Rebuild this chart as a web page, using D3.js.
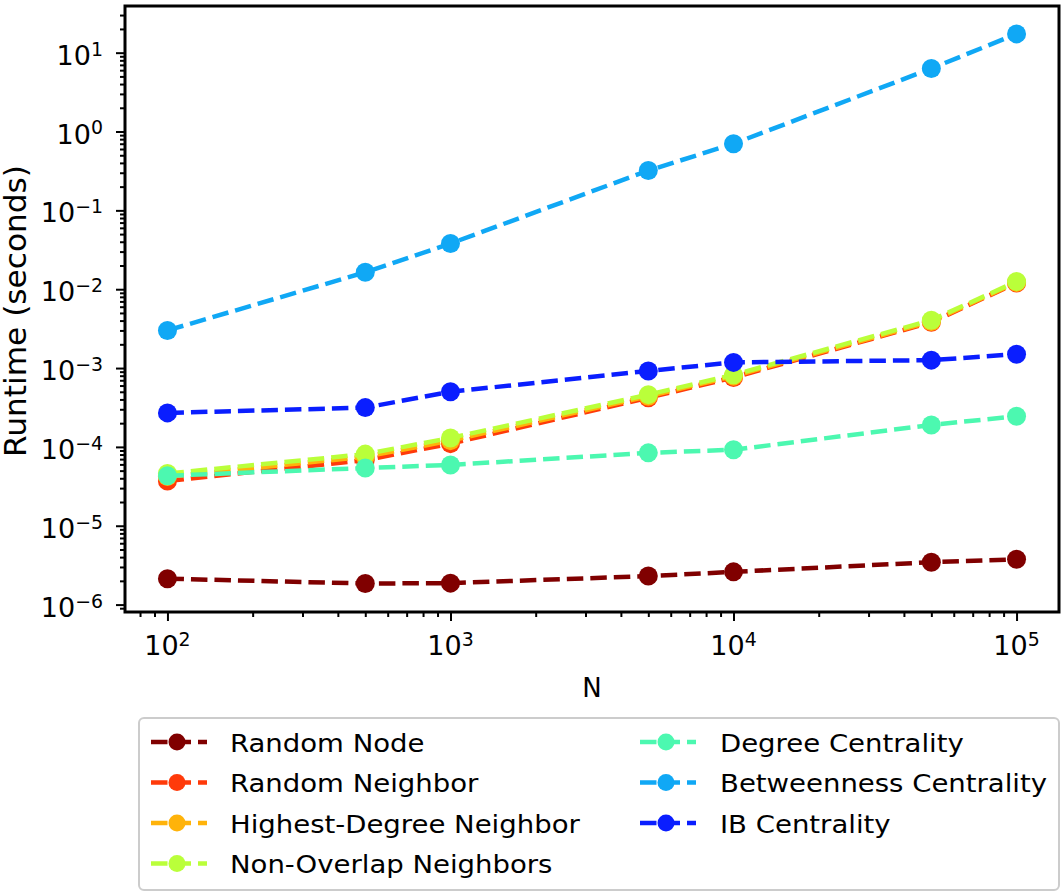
<!DOCTYPE html>
<html><head><meta charset="utf-8">
<script src="https://cdn.jsdelivr.net/npm/d3@7"></script>
<style>body{margin:0;background:#fff} text{font-family:"DejaVu Sans",sans-serif;fill:#000}</style>
</head><body><svg id="c" width="1064" height="892"></svg>
<script>
const Ns = [100, 500, 1000, 5000, 10000, 50000, 100000];
const seriesNames = ["Random Node","Random Neighbor","Highest-Degree Neighbor","Non-Overlap Neighbors","Degree Centrality","Betweenness Centrality","IB Centrality"];
const seriesColors = ["#800000","#ff3a0a","#ffb30a","#baff3a","#4cf8b0","#10a8f5","#0a1eff"];
const randomNode   = [2.13e-6, 1.85e-6, 1.87e-6, 2.3e-6, 2.6e-6, 3.45e-6, 3.75e-6];
const randomNeighbor = [3.7e-5, 6.8e-5, 1.1e-4, 4.2e-4, 7.6e-4, 3.8e-3, 1.2e-2];
const highestDegree  = [4.2e-5, 7.5e-5, 1.2e-4, 4.4e-4, 7.9e-4, 3.9e-3, 1.22e-2];
const nonOverlap     = [4.6e-5, 8.1e-5, 1.3e-4, 4.6e-4, 8.2e-4, 4.05e-3, 1.25e-2];
const degreeCentrality = [4.3e-5, 5.4e-5, 5.9e-5, 8.4e-5, 9.2e-5, 1.9e-4, 2.45e-4];
const betweenness    = [3.0e-3, 1.64e-2, 3.8e-2, 0.32, 0.70, 6.3, 17.3];
const ibCentrality   = [2.7e-4, 3.15e-4, 5.0e-4, 9.2e-4, 1.18e-3, 1.26e-3, 1.5e-3];
const xTickExps = [2, 3, 4, 5];
const yTickExps = [-6, -5, -4, -3, -2, -1, 0, 1];
const xLabel = "N", yLabel = "Runtime (seconds)";

const allSeries = [randomNode, randomNeighbor, highestDegree, nonOverlap, degreeCentrality, betweenness, ibCentrality];

const svg = d3.select("#c");
const L = 125, R = 1059, T = 6, B = 612;
const x = d3.scaleLog().domain([Math.pow(10,1.85), Math.pow(10,5.15)]).range([L, R]);
const y = d3.scaleLog().domain([Math.pow(10,-6.094), Math.pow(10,1.592)]).range([B, T]);

function sup(sel, e) {
  sel.text(null);
  sel.append("tspan").text("10");
  sel.append("tspan").attr("dy", "-0.48em").attr("font-size", "0.7em").text(String(e).replace("-", "\u2212"));
}

// minor ticks
const xMinor = [], yMinor = [];
for (let k = 1; k <= 5; k++) for (let m = 2; m <= 9; m++) { const v = m * Math.pow(10, k); if (v > x.domain()[0] && v < x.domain()[1]) xMinor.push(v); }
for (let k = -7; k <= 1; k++) for (let m = 2; m <= 9; m++) { const v = m * Math.pow(10, k); if (v > y.domain()[0] && v < y.domain()[1]) yMinor.push(v); }

const gx = svg.append("g").attr("transform", `translate(0,${B})`);
gx.call(d3.axisBottom(x).tickValues(xMinor).tickSize(5).tickFormat(""));
gx.append("g").call(d3.axisBottom(x).tickValues(xTickExps.map(e => Math.pow(10, e))).tickSize(9).tickPadding(6).tickFormat(""));
const gy = svg.append("g").attr("transform", `translate(${L},0)`);
gy.call(d3.axisLeft(y).tickValues(yMinor).tickSize(5).tickFormat(""));
gy.append("g").call(d3.axisLeft(y).tickValues(yTickExps.map(e => Math.pow(10, e))).tickSize(9).tickPadding(6).tickFormat(""));
svg.selectAll(".domain").remove();
svg.selectAll(".tick line").attr("stroke", "#000").attr("stroke-width", 2);

// tick labels
xTickExps.forEach(e => {
  const t = svg.append("text").attr("x", x(Math.pow(10, e))).attr("y", B + 43).attr("font-size", 27).attr("text-anchor", "middle");
  sup(t, e);
});
yTickExps.forEach(e => {
  const t = svg.append("text").attr("x", 103).attr("y", y(Math.pow(10, e)) + 12).attr("font-size", 27).attr("text-anchor", "end");
  sup(t, e);
});

// axis labels
svg.append("text").attr("x", (L + R) / 2).attr("y", 697).attr("font-size", 26).attr("text-anchor", "middle").text(xLabel);
svg.append("text").attr("transform", `translate(26,311) rotate(-90) scale(1.04,1)`).attr("font-size", 30).attr("text-anchor", "middle").text(yLabel);

// series
const line = d3.line().x((d, i) => x(Ns[i])).y(d => y(d));
const plot = svg.append("g");
allSeries.forEach((s, i) => {
  const g = plot.append("g");
  g.append("path").attr("d", line(s)).attr("fill", "none").attr("stroke", seriesColors[i])
    .attr("stroke-width", 4.5).attr("stroke-dasharray", "16.5,7");
  g.selectAll("circle").data(s).join("circle").attr("cx", (d, j) => x(Ns[j])).attr("cy", d => y(d))
    .attr("r", 9.5).attr("fill", seriesColors[i]);
});

// frame
svg.append("rect").attr("x", L).attr("y", T).attr("width", R - L).attr("height", B - T)
  .attr("fill", "none").attr("stroke", "#000").attr("stroke-width", 3);

// legend
const lg = svg.append("g");
lg.append("rect").attr("x", 139).attr("y", 718).attr("width", 920).attr("height", 172).attr("rx", 5)
  .attr("fill", "#fff").attr("stroke", "#cccccc").attr("stroke-width", 2);
const cols = [{hx: 151, tx: 230}, {hx: 640, tx: 720}];
seriesNames.forEach((name, i) => {
  const c = i < 4 ? cols[0] : cols[1];
  const row = i < 4 ? i : i - 4;
  const cy = 742 + row * 40.5;
  const h = lg.append("g");
  h.append("line").attr("x1", c.hx).attr("x2", c.hx + 56).attr("y1", cy).attr("y2", cy)
    .attr("stroke", seriesColors[i]).attr("stroke-width", 4.5).attr("stroke-dasharray", "16.5,7");
  h.append("circle").attr("cx", c.hx + 26).attr("cy", cy).attr("r", 8.5).attr("fill", seriesColors[i]);
  lg.append("text").attr("transform", `translate(${c.tx},${cy + 9.5}) scale(1.08,1)`).attr("font-size", 25.5).text(name);
});
</script></body></html>
